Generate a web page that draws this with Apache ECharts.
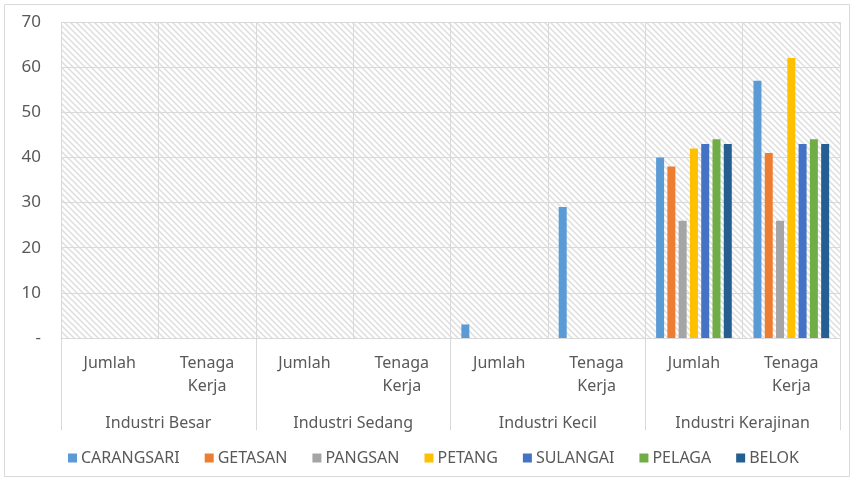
<!DOCTYPE html>
<html><head><meta charset="utf-8">
<script src="https://cdn.jsdelivr.net/npm/echarts@6/dist/echarts.min.js"></script>
<style>html,body{margin:0;padding:0;background:#fff}#c{width:853px;height:482px}</style>
</head><body><div id="c"></div>
<script>
const subCategories = ['Jumlah','Tenaga\nKerja','Jumlah','Tenaga\nKerja','Jumlah','Tenaga\nKerja','Jumlah','Tenaga\nKerja'];
const groupCategories = ['Industri Besar','Industri Sedang','Industri Kecil','Industri Kerajinan'];
const seriesNames = ['CARANGSARI','GETASAN','PANGSAN','PETANG','SULANGAI','PELAGA','BELOK'];
const CARANGSARI = [0,0,0,0,3,29,40,57];
const GETASAN    = [0,0,0,0,0,0,38,41];
const PANGSAN    = [0,0,0,0,0,0,26,26];
const PETANG     = [0,0,0,0,0,0,42,62];
const SULANGAI   = [0,0,0,0,0,0,43,43];
const PELAGA     = [0,0,0,0,0,0,44,44];
const BELOK      = [0,0,0,0,0,0,43,43];
const yTicks = [0,10,20,30,40,50,60,70];

const seriesData = [CARANGSARI,GETASAN,PANGSAN,PETANG,SULANGAI,PELAGA,BELOK];
const colors = ['#5b9bd5','#ed7d31','#a5a5a5','#ffc000','#4472c4','#70ad47','#255e91'];
const FONT = 'Noto Sans';
const TXT = '#595959';

// hatch pattern
const pc = document.createElement('canvas');
pc.width = 6; pc.height = 6;
const px = pc.getContext('2d');
px.fillStyle = '#ffffff'; px.fillRect(0,0,6,6);
px.strokeStyle = '#dedede'; px.lineWidth = 1.5;
px.beginPath();
px.moveTo(-1,-1); px.lineTo(7,7);
px.moveTo(-4,2); px.lineTo(4,10);
px.moveTo(2,-4); px.lineTo(10,4);
px.stroke();

const chart = echarts.init(document.getElementById('c'), null, {renderer:'canvas'});
chart.setOption({
  animation:false,
  color: colors,
  graphic:[{type:'rect', shape:{x:4.5,y:4.5,width:845,height:472}, style:{fill:'none', stroke:'#d9d9d9', lineWidth:1}, z:-10}],
  grid:{left:61,right:13,top:22,bottom:144,show:true,backgroundColor:{image:pc,repeat:'repeat'},borderWidth:0},
  legend:{
    data: seriesNames, bottom: 11, left: 63, icon:'rect', itemWidth:9, itemHeight:9, itemGap:25,
    textStyle:{fontFamily:FONT, fontSize:16, color:TXT, padding:[0,0,0,-1]}
  },
  xAxis:[
    {type:'category', data: subCategories, position:'bottom',
     axisLine:{show:true, lineStyle:{color:'#d9d9d9'}},
     axisTick:{show:false},
     splitLine:{show:true, interval:0, lineStyle:{color:'#d9d9d9'}},
     axisLabel:{interval:0, fontFamily:FONT, fontSize:16, color:TXT, margin:14, lineHeight:23}},
    {type:'category', data: groupCategories, position:'bottom',
     axisLine:{show:false},
     axisTick:{show:true, length:92, inside:false, lineStyle:{color:'#d9d9d9'}},
     axisLabel:{interval:0, fontFamily:FONT, fontSize:16, color:TXT, margin:77}}
  ],
  yAxis:{type:'value', min:0, max:70, interval:10,
    axisLine:{show:false}, axisTick:{show:false},
    splitLine:{lineStyle:{color:'#d9d9d9'}},
    axisLabel:{fontFamily:FONT, fontSize:17, color:TXT, margin:20, formatter:v=> v===0?'-':String(v)}},
  series: seriesNames.map((n,i)=>({
    name:n, type:'bar', xAxisIndex:0, data: seriesData[i], barWidth:8, barGap:'41%', barCategoryGap:'22%'
  }))
});
</script></body></html>
